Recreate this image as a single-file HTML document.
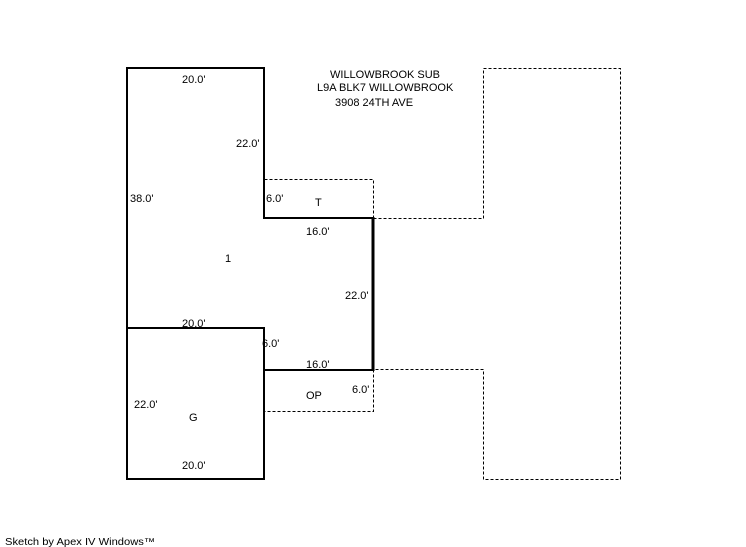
<!DOCTYPE html>
<html><head><meta charset="utf-8"><style>
html,body{margin:0;padding:0;background:#fff;}
svg{display:block;}
text{font-family:"Liberation Sans",Arial,sans-serif;font-size:11px;fill:#000;}
</style></head><body>
<svg width="746" height="547" viewBox="0 0 746 547" xmlns="http://www.w3.org/2000/svg">
<g fill="none" stroke="#000" stroke-width="1" stroke-dasharray="3,2">
<polyline points="264.5,179.5 373.5,179.5 373.5,218.5"/>
<polyline points="373.5,218.5 483.5,218.5 483.5,68.5 620.5,68.5 620.5,479.5 483.5,479.5 483.5,369.5 373.5,369.5"/>
<polyline points="373.5,369.5 373.5,411.5 264.5,411.5"/>
</g>
<g fill="none" stroke="#000" stroke-width="2" stroke-linejoin="miter">
<polyline points="127,328 127,68 264,68 264,218 373,218"/>
<polyline points="373,370 264,370"/>
<rect x="127" y="328" width="137" height="151"/>
</g>
<line x1="373" y1="217" x2="373" y2="371" stroke="#000" stroke-width="3"/>
<text x="182" y="83">20.0'</text>
<text x="236" y="147">22.0'</text>
<text x="130" y="202">38.0'</text>
<text x="266" y="202">6.0'</text>
<text x="315" y="206">T</text>
<text x="306" y="235">16.0'</text>
<text x="225" y="262">1</text>
<text x="345" y="299">22.0'</text>
<text x="182" y="327">20.0'</text>
<text x="262" y="347">6.0'</text>
<text x="306" y="368">16.0'</text>
<text x="352" y="393">6.0'</text>
<text x="306" y="399">OP</text>
<text x="134" y="408">22.0'</text>
<text x="189" y="421">G</text>
<text x="182" y="469">20.0'</text>
<text x="330" y="78">WILLOWBROOK SUB</text>
<text x="317" y="91">L9A BLK7 WILLOWBROOK</text>
<text x="335" y="106">3908 24TH AVE</text>
<text x="5" y="545" style="font-size:10px" textLength="150" lengthAdjust="spacingAndGlyphs">Sketch by Apex IV Windows™</text>
</svg>
</body></html>
